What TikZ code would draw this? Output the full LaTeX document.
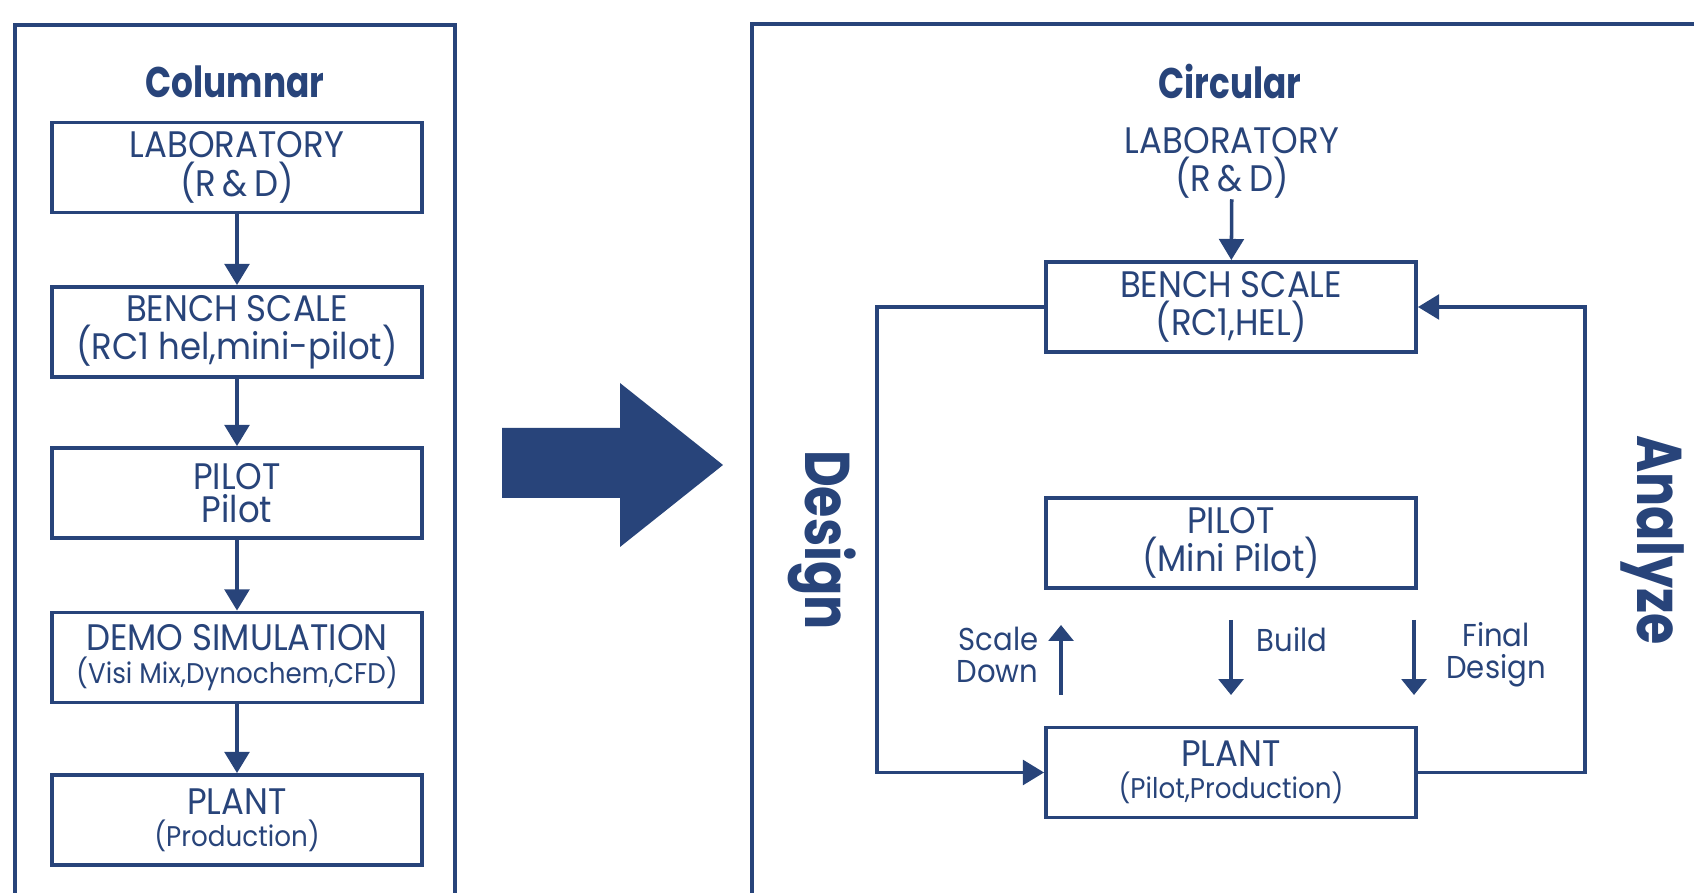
\documentclass[tikz,border=0pt]{standalone}
\usepackage{fontspec}
\setmainfont{Poppins}[FakeStretch=0.92, BoldFeatures={FakeStretch=0.8}]
\usetikzlibrary{arrows.meta}
\definecolor{navy}{RGB}{40,68,122}
\newcommand{\smalltxt}{\fontsize{8.1}{9}\selectfont}

\begin{document}
\begin{tikzpicture}[
  every node/.style={text=navy},
  stage/.style={draw=navy, line width=1.1pt, minimum width=3.7cm, minimum height=0.9cm,
    align=center, inner sep=0pt, font=\fontsize{10.5}{9.2}\selectfont},
  flow/.style={draw=navy, line width=1pt, -{Triangle[width=7pt,length=6pt]}},
  small/.style={draw=navy, line width=1pt, -{Triangle[width=7pt,length=4.5pt]}},
  title/.style={font=\fontsize{12.2}{14}\selectfont\bfseries},
  side/.style={font=\fontsize{18}{20}\selectfont\bfseries, rotate=-90},
  note/.style={inner sep=0pt, font=\fontsize{9}{9}\selectfont}
]
\useasboundingbox (0,0) rectangle (16.94,-8.93);
% panels
\draw[navy, line width=0.9pt] (0.15,-8.93) |- (4.55,-0.25) -- (4.55,-8.93);
\draw[navy, line width=0.9pt] (7.52,-8.93) |- (16.94,-0.24);

% columnar
\node[title] (colT) at (2.35,-0.82) {Columnar};
\node[stage] (lab1) at (2.37,-1.675) {LABORATORY\\(R\,\&\,D)};
\node[stage] (bench1) at (2.37,-3.32) {BENCH SCALE\\(RC1 hel,mini-pilot)};
\node[stage] (pilot1) at (2.37,-4.93) {PILOT\\Pilot};
\node[stage] (demo1) at (2.37,-6.575) {DEMO SIMULATION\\{\smalltxt(Visi Mix,Dynochem,CFD)}};
\node[stage] (plant1) at (2.37,-8.20) {PLANT\\{\smalltxt(Production)}};
\foreach \a/\b in {lab1/bench1, bench1/pilot1, pilot1/demo1, demo1/plant1}
  \draw[flow] (\a) -- (\b);

% big arrow
\fill[navy] (5.02,-4.28) -- (6.20,-4.28) -- (6.20,-3.83) -- (7.23,-4.65)
  -- (6.20,-5.47) -- (6.20,-4.98) -- (5.02,-4.98) -- cycle;

% circular
\node[title] (circT) at (12.30,-0.82) {Circular};
\node[align=center, inner sep=0pt, font=\fontsize{10.5}{9.2}\selectfont] (lab2) at (12.32,-1.63) {LABORATORY\\(R\,\&\,D)};
\node[stage] (bench2) at (12.31,-3.07) {BENCH SCALE\\(RC1,HEL)};
\node[stage] (pilot2) at (12.31,-5.43) {PILOT\\(Mini Pilot)};
\node[stage] (plant2) at (12.31,-7.725) {PLANT\\{\smalltxt(Pilot,Production)}};
\draw[flow] (lab2) -- (bench2);
\draw[flow] (bench2.west) -- ++(-1.67,0) |- (plant2.west);
\draw[flow] (plant2.east) -- ++(1.67,0) |- (bench2.east);

\node[side] (design) at (8.22,-5.40) {Design};
\node[side] (analyze) at (16.53,-5.40) {Analyze};

\coordinate (sdA) at (10.61,-6.95);
\coordinate (sdB) at (10.61,-6.25);
\coordinate (buA) at (12.31,-6.20);
\coordinate (buB) at (12.31,-6.95);
\coordinate (fdA) at (14.14,-6.20);
\coordinate (fdB) at (14.14,-6.95);
\draw[small] (sdA) -- (sdB);
\draw[small] (buA) -- (buB);
\draw[small] (fdA) -- (fdB);
\node[note, align=right, anchor=east] (sdT) at (10.39,-6.55) {Scale\\Down};
\node[note, anchor=west] (buT) at (12.56,-6.40) {Build};
\node[note, align=center] (fdT) at (14.96,-6.55) {Final\\Design};
\end{tikzpicture}
\end{document}
